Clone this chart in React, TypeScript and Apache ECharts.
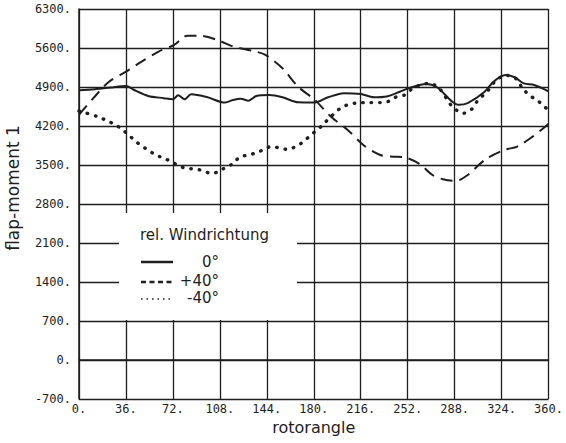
import React, { useEffect, useRef } from "react";
import * as echarts from "echarts";

// rotor angle (deg) and flap-moment values per wind direction
const angles0 = [0, 12, 24, 36, 42, 53, 65, 72, 76, 81, 86, 98, 112, 118, 124, 130, 136, 146, 156, 168, 180, 191, 203, 216, 226, 236, 246, 253, 266, 274, 286, 291, 298, 311, 318, 327, 334, 341, 349, 360];
const moment0 = [4840, 4860, 4890, 4920, 4850, 4740, 4700, 4680, 4750, 4680, 4770, 4720, 4620, 4665, 4690, 4655, 4740, 4755, 4715, 4625, 4620, 4715, 4790, 4775, 4715, 4730, 4815, 4880, 4955, 4905, 4640, 4580, 4610, 4815, 5000, 5115, 5075, 4965, 4935, 4820];

const anglesP40 = [0, 11, 23, 36, 48, 61, 73, 83, 93, 106, 118, 133, 143, 156, 168, 181, 193, 206, 218, 231, 241, 250, 261, 271, 279, 289, 298, 311, 326, 336, 346, 356, 360];
const momentP40 = [4400, 4700, 4995, 5175, 5355, 5535, 5655, 5820, 5820, 5745, 5630, 5550, 5475, 5235, 4905, 4665, 4370, 4130, 3860, 3680, 3650, 3635, 3520, 3320, 3245, 3215, 3320, 3590, 3770, 3830, 3980, 4160, 4240];

const anglesM40 = [0, 14, 22, 28, 33, 38, 43, 48, 53, 58, 64, 71, 76, 82, 88, 95, 101, 107, 113, 118, 123, 130, 136, 142, 147, 153, 160, 166, 171, 176, 181, 186, 191, 196, 201, 206, 212, 220, 231, 237, 243, 250, 256, 262, 268, 276, 285, 290, 295, 301, 305, 310, 314, 319, 327, 334, 341, 347, 352, 357, 360];
const momentM40 = [4470, 4370, 4290, 4220, 4140, 4040, 3935, 3840, 3770, 3690, 3630, 3560, 3490, 3440, 3430, 3400, 3350, 3380, 3470, 3520, 3640, 3680, 3720, 3780, 3830, 3810, 3780, 3830, 3900, 4000, 4100, 4200, 4320, 4430, 4530, 4580, 4610, 4620, 4620, 4640, 4720, 4760, 4880, 4935, 4965, 4880, 4580, 4475, 4430, 4500, 4635, 4755, 4850, 5000, 5110, 5070, 4850, 4725, 4650, 4540, 4500];

const seriesNames = ["0°", "+40°", "-40°"];
const legendTitle = "rel. Windrichtung";
const xName = "rotorangle";
const yName = "flap-moment 1";

const zip = (xs: number[], ys: number[]) => xs.map((x, i) => [x, ys[i]]);

const INK = "#1e1e1e";
const labelFont = "DejaVu Sans Mono";
const textFont = "DejaVu Sans";

export default function App() {
  const ref = useRef<HTMLDivElement>(null);
  useEffect(() => {
    if (!ref.current) return;
    const chart = echarts.init(ref.current, null, { renderer: "svg" });
    chart.setOption({
      animation: false,
      backgroundColor: "#ffffff",
      grid: { left: 79, right: 8, top: 9, bottom: 44 },
      xAxis: {
        type: "value",
        min: 0,
        max: 360,
        interval: 36,
        name: xName,
        nameLocation: "middle",
        nameGap: 20,
        nameTextStyle: { fontFamily: textFont, fontSize: 16, color: INK },
        axisLine: { show: true, lineStyle: { color: INK, width: 1.5 } },
        axisTick: { show: false },
        axisLabel: {
          fontFamily: labelFont,
          fontSize: 12,
          color: INK,
          margin: 4,
          formatter: (v: number) => `${v}.`,
        },
        splitLine: { show: true, lineStyle: { color: INK, width: 1.3 } },
      },
      yAxis: {
        type: "value",
        min: -700,
        max: 6300,
        interval: 700,
        axisLine: { show: true, lineStyle: { color: INK, width: 1.5 } },
        axisTick: { show: false },
        axisLabel: {
          fontFamily: labelFont,
          fontSize: 12,
          color: INK,
          margin: 8,
          formatter: (v: number) => `${v}.`,
        },
        splitLine: { show: true, lineStyle: { color: INK, width: 1.3 } },
      },
      series: [
        {
          name: seriesNames[0],
          type: "line",
          data: zip(angles0, moment0),
          symbol: "none",
          smooth: 0.3,
          lineStyle: { color: INK, width: 2 },
          z: 3,
        },
        {
          name: seriesNames[1],
          type: "line",
          data: zip(anglesP40, momentP40),
          symbol: "none",
          smooth: 0.3,
          lineStyle: { color: INK, width: 2, type: [12, 7] },
          z: 3,
        },
        {
          name: seriesNames[2],
          type: "line",
          data: zip(anglesM40, momentM40),
          symbol: "none",
          smooth: 0.3,
          lineStyle: { color: INK, width: 3.4, type: [0.5, 8], cap: "round" },
          z: 3,
        },
      ],
      graphic: [
        {
          type: "rect",
          z: 10,
          shape: { x: 119, y: 213, width: 178, height: 107 },
          style: { fill: "#ffffff" },
        },
        {
          type: "text",
          z: 11,
          x: 140,
          y: 235,
          style: { text: legendTitle, font: `15px "${textFont}"`, fill: INK, verticalAlign: "middle", align: "left" },
        },
        {
          type: "line",
          z: 11,
          shape: { x1: 141, y1: 262, x2: 173, y2: 262 },
          style: { stroke: INK, lineWidth: 2.5 },
        },
        {
          type: "line",
          z: 11,
          shape: { x1: 141, y1: 282, x2: 173, y2: 282 },
          style: { stroke: INK, lineWidth: 2.5, lineDash: [5, 3.5] },
        },
        {
          type: "line",
          z: 11,
          shape: { x1: 141, y1: 299, x2: 173, y2: 299 },
          style: { stroke: INK, lineWidth: 1.6, lineDash: [1.5, 4] },
        },
        {
          type: "text",
          z: 11,
          x: 219,
          y: 262,
          style: { text: seriesNames[0], font: `15px "${textFont}"`, fill: INK, verticalAlign: "middle", align: "right" },
        },
        {
          type: "text",
          z: 11,
          x: 219,
          y: 281,
          style: { text: seriesNames[1], font: `15px "${textFont}"`, fill: INK, verticalAlign: "middle", align: "right" },
        },
        {
          type: "text",
          z: 11,
          x: 219,
          y: 298,
          style: { text: seriesNames[2], font: `15px "${textFont}"`, fill: INK, verticalAlign: "middle", align: "right" },
        },
        {
          type: "text",
          z: 11,
          x: 13,
          y: 188,
          rotation: Math.PI / 2,
          style: { text: yName, font: `17px "${textFont}"`, fill: INK, verticalAlign: "middle", align: "center" },
        },
      ],
    });
    return () => chart.dispose();
  }, []);
  return (
    <div
      ref={ref}
      style={{ position: "fixed", left: 0, top: 0, width: 566, height: 443, background: "#fff" }}
    />
  );
}
